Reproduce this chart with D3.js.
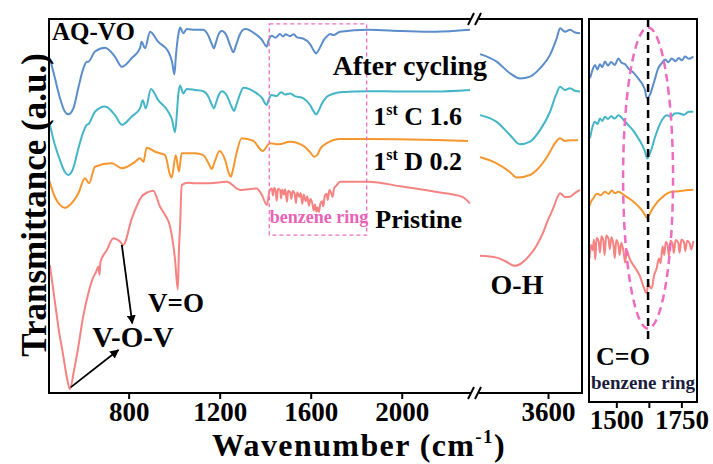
<!DOCTYPE html>
<html>
<head>
<meta charset="utf-8">
<script src="https://cdn.jsdelivr.net/npm/d3@7"></script>
<style>
  body { margin: 0; background: #fff; }
  text { font-family: "Liberation Serif", "Times New Roman", serif; font-weight: bold; }
</style>
</head>
<body>
<svg id="chart" width="713" height="464"></svg>
<script>
// [wavenumber, transmittance a.u.]
const afterCycling = [[454,89.5],[476,84.2],[498,78.9],[520,75.2],[535,74.5],[557,76.1],[579,81.6],[601,86.8],[616,88.6],[623,88.6],[652,91.3],[696,92.3],[740,89.9],[770,87.2],[813,89.5],[850,92.2],[857,93.9],[872,92.2],[894,96.6],[930,93.9],[974,91.3],[991,88.5],[1001,85.2],[1008,90.4],[1018,95.7],[1026,97.7],[1040,96.2],[1055,97.3],[1092,97.1],[1127,97.1],[1150,95.6],[1166,93.2],[1175,92.2],[1183,93.6],[1195,95.9],[1209,96.8],[1230,95.6],[1248,92.6],[1260,91.1],[1271,92.8],[1288,95.8],[1312,97.3],[1363,95.7],[1386,94.4],[1400,93.0],[1407,92.6],[1415,94.2],[1429,95.5],[1445,95.0],[1465,96.0],[1478,95.3],[1490,95.9],[1509,95.4],[1525,95.9],[1540,95.1],[1566,94.8],[1597,93.3],[1614,91.5],[1624,90.8],[1634,91.6],[1646,93.0],[1660,94.6],[1671,95.3],[1685,96.0],[1700,95.7],[1729,96.6],[1852,97.1],[2000,96.8],[2147,96.6],[2300,97.1],
  [3200,90.6],[3298,88.6],[3376,85.5],[3435,84.1],[3494,84.6],[3553,86.8],[3612,90.4],[3651,94.8],[3671,97.5],[3700,96.6],[3729,97.1],[3760,96.4],[3788,96.2]];
const firstC16 = [[454,71.7],[476,66.3],[498,62.3],[520,59.1],[535,58.3],[557,60.2],[579,65.4],[601,69.8],[616,71.7],[623,71.9],[652,75.2],[696,76.6],[740,74.3],[771,71.7],[813,73.9],[850,76.1],[862,78.3],[875,76.1],[898,81.3],[930,78.3],[974,75.2],[991,73.0],[1004,69.7],[1013,75.7],[1018,79.7],[1026,82.2],[1040,80.1],[1055,81.3],[1092,81.0],[1128,80.7],[1150,79.3],[1166,77.0],[1175,76.1],[1183,77.4],[1197,79.8],[1209,80.7],[1232,79.5],[1252,76.6],[1263,75.4],[1273,77.0],[1290,80.0],[1304,81.6],[1363,80.1],[1386,78.9],[1400,77.4],[1407,77.0],[1415,78.4],[1429,79.7],[1450,79.4],[1470,80.4],[1488,79.8],[1509,80.1],[1530,79.4],[1568,78.8],[1597,77.0],[1614,75.2],[1624,74.5],[1634,75.3],[1646,77.0],[1671,79.2],[1700,80.0],[1729,80.4],[1852,80.7],[2000,80.6],[2147,80.6],[2300,81.0],
  [3200,74.3],[3298,72.5],[3376,69.0],[3435,66.5],[3494,67.2],[3553,70.3],[3612,75.2],[3647,79.7],[3671,81.9],[3700,81.0],[3729,81.5],[3760,80.8],[3788,80.6]];
const firstD02 = [[450,57.0],[476,52.4],[498,50.3],[520,49.5],[542,50.3],[579,53.4],[608,57.4],[626,56.1],[652,60.5],[726,61.4],[770,60.1],[828,61.8],[850,62.8],[865,61.8],[879,65.6],[916,64.5],[960,63.6],[982,58.3],[989,57.6],[1007,63.6],[1021,59.2],[1033,64.1],[1092,64.1],[1128,63.6],[1152,61.3],[1165,59.9],[1177,61.6],[1199,64.7],[1224,62.3],[1240,58.8],[1249,57.8],[1258,59.6],[1272,63.6],[1297,68.1],[1348,67.4],[1389,64.7],[1421,66.8],[1460,66.5],[1509,67.2],[1568,66.1],[1597,64.4],[1615,63.2],[1628,63.6],[1641,65.2],[1671,66.8],[1729,67.9],[1852,67.9],[2291,67.4],
  [3200,63.1],[3298,61.4],[3376,59.1],[3416,57.6],[3494,58.3],[3534,59.6],[3582,62.3],[3612,64.5],[3641,66.8],[3671,68.1],[3700,67.4],[3729,67.6],[3776,67.6]];
const pristine = [[454,34.2],[472,26.2],[491,17.7],[512,10.2],[529,4.0],[542,1.0],[560,6.1],[579,12.4],[599,20.1],[623,26.7],[643,30.7],[657,32.4],[667,33.8],[672,31.6],[676,35.0],[704,38.2],[733,41.4],[762,40.5],[776,39.6],[814,46.7],[857,52.5],[885,53.7],[908,54.1],[938,49.8],[960,47.6],[982,44.5],[1004,35.6],[1016,27.7],[1021,38.2],[1026,44.5],[1033,55.6],[1062,56.2],[1092,56.1],[1158,56.1],[1231,56.5],[1290,54.3],[1363,54.7],[1386,52.9],[1407,50.3],[1420,54.2],
  [1429,54.7],[1434,52.8],[1440,54.9],[1447,53.6],[1451,51.4],[1456,54.6],[1466,54.2],[1470,52.0],[1475,54.4],[1483,53.1],[1488,54.5],[1496,51.2],[1501,54.1],[1510,53.6],[1515,51.9],[1521,54.0],[1530,53.2],[1535,50.8],[1541,53.7],[1550,52.4],[1556,53.5],[1563,50.6],[1569,53.1],[1578,51.3],[1585,52.6],[1592,50.1],[1599,51.9],[1607,50.7],[1613,48.8],[1619,50.4],[1625,48.5],[1630,49.6],[1636,48.4],[1642,50.6],[1650,51.3],[1655,49.9],[1662,52.7],[1670,53.3],[1675,51.6],[1682,54.3],[1690,53.5],[1696,52.4],[1703,54.8],[1712,55.4],
  [1729,56.5],[1781,56.5],[1854,56.5],[2000,55.2],[2147,53.8],[2264,52.5],[2300,50.7],
  [3200,36.7],[3298,36.2],[3347,35.3],[3406,34.0],[3447,34.8],[3494,36.9],[3535,39.6],[3573,43.1],[3600,46.3],[3631,49.4],[3653,52.1],[3671,53.4],[3700,52.4],[3729,52.5],[3759,53.5],[3788,54.3]];

// zoomed C=O window
const insetAfter = [[1399,84.5],[1410,87.0],[1418,88.0],[1427,86.8],[1437,88.2],[1446,87.4],[1456,88.9],[1468,87.8],[1480,88.8],[1494,88.0],[1508,89.7],[1520,88.6],[1534,88.2],[1546,87.1],[1566,86.0],[1584,84.5],[1600,83.0],[1610,81.5],[1617,79.3],[1629,80.2],[1640,82.4],[1649,84.5],[1660,87.0],[1674,88.4],[1688,89.4],[1700,88.7],[1713,89.7],[1727,89.0],[1740,89.8],[1752,89.2],[1764,90.2],[1780,89.6],[1796,90.2]];
const insetC16 = [[1399,68.9],[1409,72.0],[1418,73.2],[1428,72.6],[1437,74.0],[1446,73.4],[1456,74.5],[1468,73.9],[1480,74.6],[1494,74.0],[1508,74.9],[1527,73.7],[1546,72.3],[1566,70.8],[1584,68.9],[1600,67.0],[1610,65.4],[1619,63.6],[1627,64.6],[1636,66.2],[1648,69.0],[1661,71.5],[1678,73.9],[1694,74.9],[1710,74.5],[1724,75.3],[1738,75.4],[1760,75.0],[1778,75.8],[1796,75.8]];
const insetD02 = [[1395,51.0],[1405,52.6],[1412,53.2],[1425,54.4],[1440,54.0],[1456,54.9],[1470,54.3],[1482,55.2],[1495,54.5],[1508,54.9],[1530,54.0],[1559,52.7],[1580,51.4],[1598,50.1],[1610,48.8],[1617,48.1],[1626,48.8],[1636,50.1],[1655,52.0],[1674,53.3],[1694,54.4],[1713,54.9],[1740,55.0],[1768,55.3],[1796,55.4]];
const insetPristine = [[1397,37.5],[1403,41.0],[1409,39.6],[1414,42.4],[1419,37.2],[1424,42.8],[1432,41.9],[1437,39.0],[1443,43.3],[1450,42.1],[1455,38.4],[1461,43.5],[1470,42.6],[1475,39.9],[1481,43.0],[1489,41.0],[1494,37.6],[1500,42.3],[1508,40.9],[1513,38.4],[1519,41.6],[1528,39.2],[1534,36.4],[1540,39.6],[1550,37.6],[1560,36.3],[1575,34.8],[1591,32.8],[1605,30.0],[1617,28.4],[1622,31.0],[1630,29.9],[1636,29.7],[1645,33.0],[1655,34.9],[1664,37.5],[1670,36.2],[1678,40.6],[1684,38.4],[1690,41.8],[1697,41.0],[1702,38.1],[1708,42.1],[1716,41.4],[1721,38.9],[1728,42.3],[1738,41.6],[1743,39.0],[1750,42.4],[1760,41.7],[1765,39.4],[1772,42.1],[1782,41.4],[1788,39.8],[1796,42.0]];

const seriesNames = ["After cycling", "1st C 1.6", "1st D 0.2", "Pristine"];
const colors = ["#5b8dcb", "#43b5c7", "#f6962f", "#f68282"];
const mainSeries = [afterCycling, firstC16, firstD02, pristine];
const insetSeries = [insetAfter, insetC16, insetD02, insetPristine];

const mainTicksLeft = [800, 1200, 1600, 2000];
const mainTicksRight = [3600];
const insetTicks = [1500, 1625, 1750];

const svg = d3.select("#chart");

const xLeft = d3.scaleLinear().domain([450, 2300]).range([49, 470]);
const xRight = d3.scaleLinear().domain([3200, 3800]).range([480, 582]);
const y = d3.scaleLinear().domain([0, 100]).range([393, 19]);
const xIn = d3.scaleLinear().domain([1395, 1810]).range([589, 697]);
const yIn = d3.scaleLinear().domain([0, 100]).range([402, 19]);

const defs = svg.append("defs");
defs.append("clipPath").attr("id", "clipMain").append("rect")
  .attr("x", 49).attr("y", 19).attr("width", 533).attr("height", 374);
defs.append("clipPath").attr("id", "clipIn").append("rect")
  .attr("x", 589).attr("y", 19).attr("width", 108).attr("height", 383);
defs.append("marker").attr("id", "arrow")
  .attr("viewBox", "0 0 10 10").attr("refX", 9).attr("refY", 5)
  .attr("markerWidth", 5).attr("markerHeight", 5).attr("orient", "auto")
  .append("path").attr("d", "M0,0L10,5L0,10z").attr("fill", "#000");

// curves
const lineL = d3.line().x(d => xLeft(d[0])).y(d => y(d[1])).curve(d3.curveMonotoneX);
const lineR = d3.line().x(d => xRight(d[0])).y(d => y(d[1])).curve(d3.curveMonotoneX);
const lineIn = d3.line().x(d => xIn(d[0])).y(d => yIn(d[1])).curve(d3.curveMonotoneX);

const gMain = svg.append("g").attr("clip-path", "url(#clipMain)");
mainSeries.forEach((s, i) => {
  gMain.append("path").attr("d", lineL(s.filter(d => d[0] <= 2300)))
    .attr("fill", "none").attr("stroke", colors[i]).attr("stroke-width", 2);
  gMain.append("path").attr("d", lineR(s.filter(d => d[0] >= 3200)))
    .attr("fill", "none").attr("stroke", colors[i]).attr("stroke-width", 2);
});

const gIn = svg.append("g").attr("clip-path", "url(#clipIn)");
insetSeries.forEach((s, i) => {
  gIn.append("path").attr("d", lineIn(s))
    .attr("fill", "none").attr("stroke", colors[i]).attr("stroke-width", 2);
});

// pink box for the benzene ring region
svg.append("rect")
  .attr("x", xLeft(1418)).attr("y", y(98.7))
  .attr("width", xLeft(1846) - xLeft(1418)).attr("height", y(42.2) - y(98.7))
  .attr("fill", "none").attr("stroke", "#ee6fc2").attr("stroke-width", 1.3)
  .attr("stroke-dasharray", "4,3");
svg.append("text").attr("x", xLeft(1420)).attr("y", 223)
  .attr("font-size", 18).attr("fill", "#ea62b6").text("benzene ring");

// inset ellipse and dashed marker
svg.append("ellipse")
  .attr("cx", xIn(1622)).attr("cy", yIn(58.5))
  .attr("rx", xIn(1718) - xIn(1622)).attr("ry", yIn(19.2) - yIn(58.5))
  .attr("fill", "none").attr("stroke", "#ee6cc0").attr("stroke-width", 2.5)
  .attr("stroke-dasharray", "8,5");
svg.append("line")
  .attr("x1", xIn(1622)).attr("x2", xIn(1622)).attr("y1", yIn(100)).attr("y2", yIn(16))
  .attr("stroke", "#000").attr("stroke-width", 2.5).attr("stroke-dasharray", "8,5");

// frame
const frame = svg.append("g").attr("stroke", "#000").attr("stroke-width", 2).attr("fill", "none");
frame.append("path").attr("d", "M471,19H49V393H471");
frame.append("path").attr("d", "M479,19H582V393H479");
[[471, 19], [478, 19], [471, 393], [478, 393]].forEach(p => {
  frame.append("line").attr("x1", p[0] - 3).attr("y1", p[1] + 6).attr("x2", p[0] + 3).attr("y2", p[1] - 6);
});
frame.append("rect").attr("x", 589).attr("y", 19).attr("width", 108).attr("height", 383);

// axes
function styleAxis(g) {
  g.select(".domain").remove();
  g.selectAll(".tick line").attr("stroke", "#000").attr("stroke-width", 2);
  g.selectAll(".tick text").attr("font-size", 27).attr("fill", "#000")
    .attr("font-family", "'Liberation Serif', serif").attr("font-weight", "bold");
}
svg.append("g").attr("transform", "translate(0,393)")
  .call(d3.axisBottom(xLeft).tickValues(mainTicksLeft).tickSize(6).tickPadding(3).tickFormat(d3.format("d")))
  .call(styleAxis);
svg.append("g").attr("transform", "translate(0,393)")
  .call(d3.axisBottom(xRight).tickValues(mainTicksRight).tickSize(6).tickPadding(3).tickFormat(d3.format("d")))
  .call(styleAxis);
svg.append("g").attr("transform", "translate(0,402)")
  .call(d3.axisBottom(xIn).tickValues(insetTicks).tickSize(6).tickPadding(2).tickFormat(d => d === 1625 ? "" : d))
  .call(styleAxis);

// axis titles
const xt = svg.append("text").attr("x", 359).attr("y", 456).attr("text-anchor", "middle")
  .attr("font-size", 32).attr("letter-spacing", 1.4);
xt.append("tspan").text("Wavenumber (cm");
xt.append("tspan").attr("font-size", 19).attr("dy", -13).text("-1");
xt.append("tspan").attr("dy", 13).text(")");
svg.append("text").attr("transform", "translate(46,205) rotate(-90)")
  .attr("text-anchor", "middle").attr("font-size", 35).text("Transmittance (a.u.)");

// series labels
svg.append("text").attr("x", 52).attr("y", 40).attr("font-size", 25).text("AQ-VO");
const labelPos = [[487, 75, 28], [462, 125, 26], [462, 170, 26], [462, 228, 26]];
seriesNames.forEach((name, i) => {
  const t = svg.append("text").attr("x", labelPos[i][0]).attr("y", labelPos[i][1])
    .attr("text-anchor", "end").attr("font-size", labelPos[i][2]);
  const m = name.match(/^1st (.*)$/);
  if (m) {
    t.append("tspan").text("1");
    t.append("tspan").attr("font-size", 16).attr("dy", -10).text("st");
    t.append("tspan").attr("dy", 10).text(" " + m[1]);
  } else {
    t.text(name);
  }
});

// peak annotations
const arrows = [[[545, 1.5], [755, 11.5]], [[770, 39.6], [816, 18.6]]];
arrows.forEach(a => {
  svg.append("line")
    .attr("x1", xLeft(a[0][0])).attr("y1", y(a[0][1]))
    .attr("x2", xLeft(a[1][0])).attr("y2", y(a[1][1]))
    .attr("stroke", "#000").attr("stroke-width", 1.8).attr("marker-end", "url(#arrow)");
});
svg.append("text").attr("x", 133).attr("y", 347).attr("text-anchor", "middle").attr("font-size", 29).text("V-O-V");
svg.append("text").attr("x", 176).attr("y", 312).attr("text-anchor", "middle").attr("font-size", 27).text("V=O");
svg.append("text").attr("x", 517).attr("y", 294).attr("text-anchor", "middle").attr("font-size", 28).text("O-H");
svg.append("text").attr("x", 623).attr("y", 365).attr("text-anchor", "middle").attr("font-size", 26).text("C=O");
svg.append("text").attr("x", 643).attr("y", 389).attr("text-anchor", "middle").attr("font-size", 19)
  .attr("fill", "#1c1c3c").text("benzene ring");
</script>
</body>
</html>
